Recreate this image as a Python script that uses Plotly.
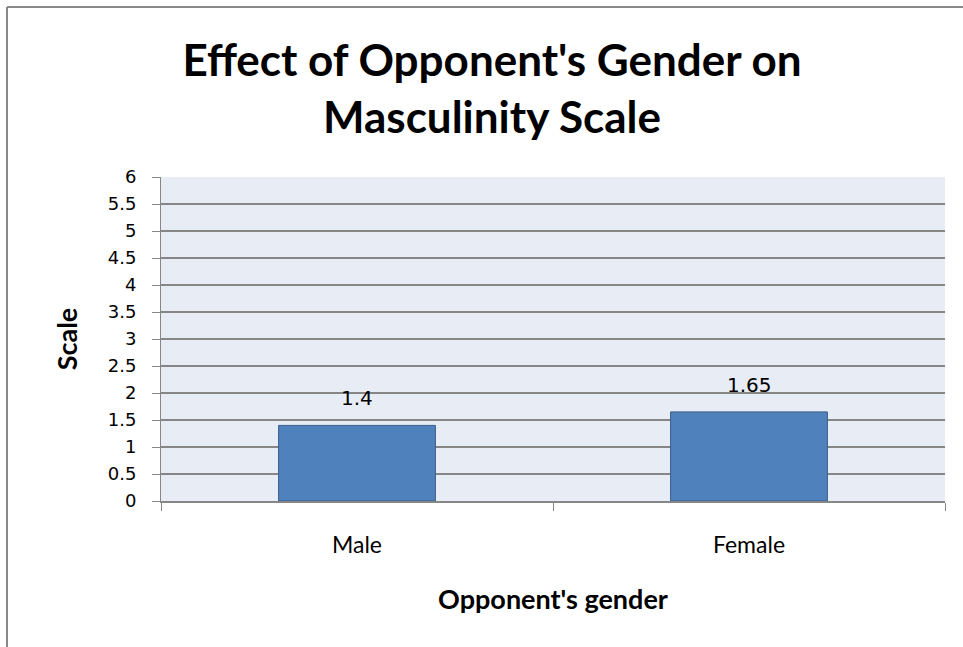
import plotly.graph_objects as go

categories = ["Male", "Female"]
values = [1.4, 1.65]
value_labels = ["1.4", "1.65"]
y_ticks = [0, 0.5, 1, 1.5, 2, 2.5, 3, 3.5, 4, 4.5, 5, 5.5, 6]
y_tick_labels = ["0", "0.5", "1", "1.5", "2", "2.5", "3", "3.5", "4", "4.5", "5", "5.5", "6"]

W, H = 963, 647
L, R, T, B = 161, 945, 177, 501

fig = go.Figure()
fig.add_trace(go.Bar(
    x=categories, y=values,
    marker=dict(color="#4F81BD", line=dict(color="#385D8A", width=1)),
    hoverinfo="skip",
))

for c, v, t in zip(categories, values, value_labels):
    fig.add_annotation(x=c, y=v, text=t, showarrow=False, yshift=27,
                       font=dict(family="DejaVu Sans", size=20, color="#000000"))

def px_x(p):
    return (p - L) / (R - L)

def px_y(p):
    return (B - p) / (B - T)

# outer chart frame (left and top edges)
fig.add_shape(type="line", xref="paper", yref="paper",
              x0=px_x(7), x1=px_x(7), y0=px_y(7), y1=px_y(660),
              line=dict(color="#898989", width=2))
fig.add_shape(type="line", xref="paper", yref="paper",
              x0=px_x(7), x1=px_x(975), y0=px_y(7), y1=px_y(7),
              line=dict(color="#898989", width=2))

fig.update_layout(
    width=W, height=H,
    margin=dict(l=L, r=W - R, t=T, b=H - B, pad=0),
    paper_bgcolor="#FFFFFF",
    plot_bgcolor="#E8ECF4",
    bargap=0.6,
    showlegend=False,
    title=dict(text="Effect of Opponent's Gender on<br>Masculinity Scale",
               x=492 / W, xanchor="center", y=1 - 76 / H, yanchor="middle",
               font=dict(family="Lato", size=44, color="#000000", weight="bold")),
)

fig.update_xaxes(
    type="category",
    showline=True, linecolor="#868686", linewidth=2,
    ticks="outside", tickson="boundaries", ticklen=8, tickcolor="#868686", tickwidth=1,
    showgrid=False,
    tickfont=dict(family="Lato", size=23, color="#000000"),
    ticklabelstandoff=22,
    title=dict(text="Opponent's gender", standoff=34,
               font=dict(family="Lato", size=27, color="#000000", weight="bold")),
)

fig.update_yaxes(
    range=[0, 6],
    tickvals=y_ticks, ticktext=y_tick_labels,
    showline=True, linecolor="#868686", linewidth=1,
    ticks="outside", ticklen=8, tickcolor="#868686", tickwidth=1,
    showgrid=True, gridcolor="#868686", gridwidth=1.5,
    zeroline=False,
    tickfont=dict(family="DejaVu Sans", size=18, color="#000000"),
    ticklabelstandoff=12,
    title=dict(text="Scale", standoff=22,
               font=dict(family="Lato", size=27, color="#000000", weight="bold")),
)

fig.write_html("out.html", config={"displayModeBar": False},
               post_script="document.body.style.margin='0';")
